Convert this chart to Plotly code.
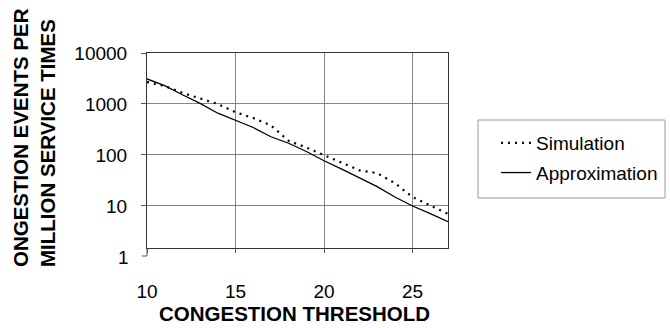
import plotly.graph_objects as go

threshold = list(range(10, 28))
simulation = [2700, 2250, 1650, 1300, 1000, 690, 530, 380, 190, 140, 100, 70, 50, 44, 28, 15, 10.3, 7]
approximation = [3100, 2300, 1520, 1030, 660, 480, 346, 228, 170, 117, 77, 53, 35, 24, 15, 10, 7.1, 4.9]
y_tick_vals = [10, 100, 1000, 10000]
y_tick_text = ["10", "100", "1000", "10000"]
x_tick_vals = [10, 15, 20, 25]

FONT = "Liberation Sans, Arial, sans-serif"
W, H = 670, 328
L, R, T, B = 147, 222, 53, 80
PW, PH = W - L - R, H - T - B


def px2x(px):
    return (px - L) / PW


def px2y(py):
    return (H - B - py) / PH


fig = go.Figure()
fig.add_trace(go.Scatter(
    x=threshold, y=simulation, mode="lines", name="Simulation",
    line=dict(color="black", width=2.2, dash="2px,5px"),
    legendgroup="a",
))
fig.add_trace(go.Scatter(
    x=threshold, y=approximation, mode="lines", name="Approximation",
    line=dict(color="black", width=1.3),
    legendgroup="b",
))

fig.update_layout(
    template="none",
    width=W, height=H,
    margin=dict(l=L, r=R, t=T, b=B, autoexpand=False),
    paper_bgcolor="white", plot_bgcolor="white",
    font=dict(family=FONT, color="black"),
    showlegend=True,
    legend=dict(
        x=px2x(496), y=px2y(124), xanchor="left", yanchor="top",
        bgcolor="rgba(0,0,0,0)", borderwidth=0,
        font=dict(size=19, family=FONT),
        traceorder="grouped", tracegroupgap=2,
    ),
    xaxis=dict(
        range=[10, 27], tickvals=x_tick_vals, automargin=False,
        showgrid=True, gridcolor="#858585", gridwidth=1,
        showline=True, linecolor="#333333", linewidth=1, mirror=True,
        ticks="outside", ticklen=4, tickcolor="#555555",
        tickfont=dict(size=19, family=FONT),
        ticklabelstandoff=22,
        zeroline=False,
    ),
    yaxis=dict(
        type="log", range=[0.176, 4], automargin=False,
        tickvals=y_tick_vals, ticktext=y_tick_text,
        showgrid=True, gridcolor="#858585", gridwidth=1,
        showline=True, linecolor="#333333", linewidth=1, mirror=True,
        ticks="outside", ticklen=5, tickcolor="#555555",
        tickfont=dict(size=19, family=FONT),
        ticklabelstandoff=10,
        zeroline=False,
    ),
    shapes=[
        dict(type="rect", xref="paper", yref="paper",
             x0=px2x(478), x1=px2x(665), y0=px2y(198), y1=px2y(120),
             line=dict(color="#9a9a9a", width=1)),
        dict(type="line", xref="paper", yref="paper",
             x0=px2x(147), x1=px2x(147), y0=px2y(248), y1=px2y(256),
             line=dict(color="#555555", width=1)),
        dict(type="line", xref="paper", yref="paper",
             x0=px2x(142), x1=px2x(147), y0=px2y(256), y1=px2y(256),
             line=dict(color="#555555", width=1)),
    ],
    annotations=[
        dict(text="1", xref="paper", yref="paper", x=px2x(131), y=px2y(257),
             xanchor="right", yanchor="middle", showarrow=False,
             font=dict(size=19, family=FONT)),
        dict(text="<b>CONGESTION THRESHOLD</b>", xref="paper", yref="paper",
             x=px2x(294.5), y=px2y(313), xanchor="center", yanchor="middle",
             showarrow=False, font=dict(size=20.5, family=FONT)),
        dict(text="<b>ONGESTION EVENTS PER<br>MILLION SERVICE TIMES</b>",
             xref="paper", yref="paper", x=px2x(34), y=px2y(138),
             xanchor="center", yanchor="middle", textangle=-90, align="left",
             showarrow=False, font=dict(size=20.5, family=FONT)),
    ],
)

fig.write_html(
    "out.html",
    config={"displayModeBar": False},
    post_script="document.body.style.margin='0';document.body.style.overflow='hidden';",
)
